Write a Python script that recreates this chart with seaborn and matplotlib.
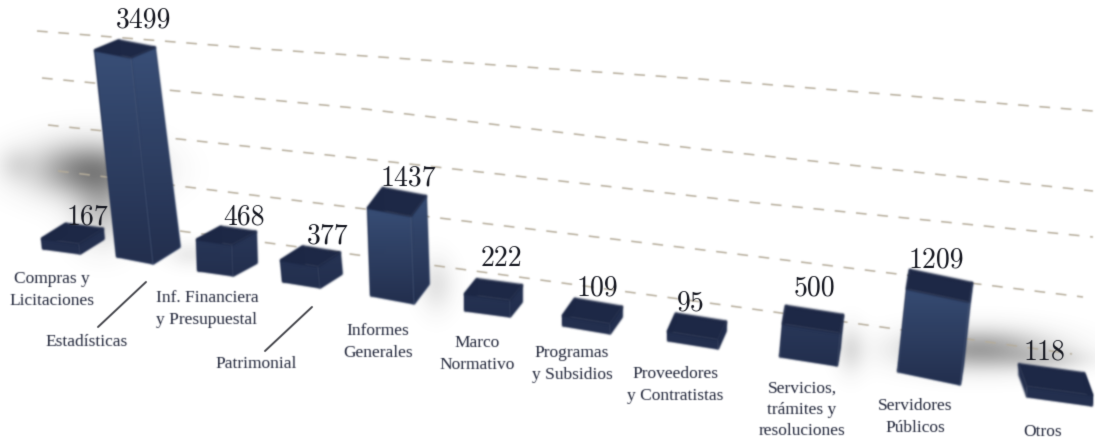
import numpy as np
import pandas as pd
import matplotlib
matplotlib.use("Agg")
import matplotlib.pyplot as plt
from matplotlib.patches import Polygon
from matplotlib.transforms import Affine2D
from matplotlib.colors import LinearSegmentedColormap, to_rgb
import seaborn as sns

# ---- data ----
categories = ["Compras y\nLicitaciones", "Estadísticas", "Inf. Financiera\ny Presupuestal",
              "Patrimonial", "Informes\nGenerales", "Marco\nNormativo", "Programas\ny Subsidios",
              "Proveedores\ny Contratistas", "Servicios,\ntrámites y\nresoluciones",
              "Servidores\nPúblicos", "Otros"]
values = [167, 3499, 468, 377, 1437, 222, 109, 95, 500, 1209, 118]

# ---- perspective layout (image pixels, y down) ----
W, H = 1095, 439
foot = [(43, 250), (117, 258), (198, 272), (283, 283), (371, 297), (465, 312),
        (563, 327), (668, 342), (780, 358), (898, 373), (1027, 398)]
edge = [(37, 5), (36, 7), (35, 5), (37, 6), (43, 8), (45, 6), (47, 8), (50, 8), (57, 9), (62, 13), (65, 9)]
depth = [(24, -15), (27, -17), (24, -13), (22, -14), (15, -20), (12, -15),
         (12, -17), (8, -18), (3, -18), (3, -19), (-8, -22)]
lid_depth = [(24, -15), (24, -10), (24, -13), (22, -14), (15, -20), (12, -15),
             (12, -17), (8, -18), (3, -18), (3, -19), (-8, -22)]
lean = [-1, -22, -1, -2, -3, 0, 0, 0, 3, 9, 0]
persp = [0.65, 0.99, 1.0, 0.8, 1.0, 1.0, 1.0, 1.0, 1.0, 1.12, 1.0]
thick = 4
px_per_unit = 0.0585

value_pos = [(87, 217), (144, 20), (244, 217), (328, 236), (408, 178), (501, 259),
             (597, 288), (691, 303), (814, 288), (936, 260), (1044, 352)]
label_pos = [(52, 290), (87, 342), (207, 309), (256, 364), (378, 342), (477, 354),
             (572, 364), (675, 385), (802, 410), (915, 417), (1043, 432)]
grid_lines = [
    [(37, 32), (263, 50), (700, 80), (1093, 112)],
    [(42, 79), (365, 110), (700, 150), (1093, 192)],
    [(48, 126), (365, 160), (738, 202), (1093, 238)],
    [(58, 172), (365, 210), (720, 253), (1083, 298)],
    [(180, 232), (365, 257), (738, 308), (967, 340), (1072, 355)],
]
leaders = [[(146, 283), (98, 328)], [(312, 308), (265, 352)]]
blobs = [(88, 170, 38, 19, 0.62), (102, 208, 20, 24, 0.30), (15, 165, 12, 12, 0.10),
         (978, 350, 48, 14, 0.50), (1050, 360, 28, 8, 0.16), (190, 255, 16, 9, 0.10),
         (436, 285, 12, 18, 0.14), (850, 350, 10, 16, 0.16)]

BASE, LIGHT, LID, GRID = "#232f4e", "#3a5078", "#1c2745", "#b5ac9a"


def blur(sigma):
    """Soft, scanned look: gaussian blur of an artist's rendered layer."""
    r = int(3 * sigma) + 1
    kern = np.exp(-np.arange(-r, r + 1) ** 2 / (2 * sigma ** 2))
    kern /= kern.sum()

    def apply(img, dpi):
        out = np.pad(img, ((r, r), (r, r), (0, 0)))
        out[..., :3] *= out[..., 3:4]
        out = np.apply_along_axis(lambda m: np.convolve(m, kern, "same"), 0, out)
        out = np.apply_along_axis(lambda m: np.convolve(m, kern, "same"), 1, out)
        a = np.clip(out[..., 3:4], 1e-4, None)
        out[..., :3] = np.clip(out[..., :3] / a, 0, 1)
        return out, -r, -r

    return apply


sns.set_theme(style="white")
fig = plt.figure(figsize=(W / 100, H / 100), dpi=100, facecolor="white")
ax = fig.add_axes([0, 0, 1, 1])
px = Affine2D().scale(1, -1).translate(0, H)

# soft cast shadows
yy, xx = np.mgrid[0:H, 0:W]
alpha = np.zeros((H, W))
for cx, cy, sx, sy, amp in blobs:
    alpha += amp * np.exp(-((xx - cx) / sx) ** 2 / 2 - ((yy - cy) / sy) ** 2 / 2)
rgba = np.zeros((H, W, 4))
rgba[..., :3] = 0.25
rgba[..., 3] = np.clip(alpha, 0, 0.75)
ax.imshow(rgba, extent=(0, W, H, 0), transform=px, aspect="auto", zorder=0, interpolation="bilinear")

for line in grid_lines:
    a = np.array(line)
    ax.plot(a[:, 0], a[:, 1], transform=px, color=GRID, lw=1.1, dashes=(7, 7), zorder=1,
            agg_filter=blur(0.7))

# the bars, from the data, then sheared into perspective
df = pd.DataFrame({"category": categories, "value": values})
sns.barplot(data=df, x="category", y="value", color=BASE, saturation=1, width=0.8, ax=ax, zorder=3)
ax.set_xlim(-0.5, len(values) - 0.5)
ax.set_ylim(0, H / px_per_unit)
fig.canvas.draw()


def gradient(poly, top, bot, z):
    ys = poly[:, 1]
    cmap = LinearSegmentedColormap.from_list("g", [top, bot])
    return ax.imshow(np.linspace(0, 1, 64)[:, None], cmap=cmap, vmin=0, vmax=1,
                     extent=(poly[:, 0].min(), poly[:, 0].max(), ys.max(), ys.min()),
                     transform=px, aspect="auto", zorder=z)


soft = blur(1.1)
for i, (patch, val) in enumerate(zip(ax.patches[:len(values)], values)):
    P = np.array(foot[i], float)
    u = np.array(edge[i], float)
    d = np.array(depth[i], float)
    dl = np.array(lid_depth[i], float)
    h = val * px_per_unit * persp[i] + thick
    v = np.array([lean[i], -h])
    (X0, Y0), (X1, Y1) = ax.transData.transform(
        [(patch.get_x(), 0), (patch.get_x() + patch.get_width(), val)])
    a, b = u[0] / (X1 - X0), -u[1] / (X1 - X0)
    c, e = v[0] / (Y1 - Y0), -v[1] / (Y1 - Y0)
    tx = P[0] - a * X0 - c * Y0
    ty = (H - P[1]) - b * X0 - e * Y0
    patch.set_transform(ax.transData + Affine2D.from_values(a, b, c, e, tx, ty))
    strength = min(h / 90, 1.0) ** 1.3
    top_c = tuple(np.array(to_rgb(BASE)) * (1 - strength) + np.array(to_rgb(LIGHT)) * strength)
    mid_c = tuple((np.array(top_c) + np.array(to_rgb(BASE))) / 2)
    patch.set_facecolor(mid_c)
    patch.set_edgecolor("none")
    z = 3 + i * 0.1
    patch.set_zorder(z)
    patch.set_agg_filter(soft)

    front = np.array([P, P + u, P + u + v, P + v])
    im = gradient(front, top_c, BASE, z + 0.01)
    im.set_clip_path(Polygon(front, closed=True, transform=px))
    im.set_agg_filter(soft)

    right = np.array([P + u, P + u + d, P + u + dl + v, P + u + v])
    ax.add_patch(Polygon(right, closed=True, transform=px, fc=mid_c, ec=mid_c, lw=1, joinstyle="round",
                         zorder=z - 0.02, agg_filter=soft))
    im = gradient(right, top_c, BASE, z - 0.01)
    im.set_clip_path(Polygon(right, closed=True, transform=px))
    im.set_agg_filter(soft)
    back = np.array([P, P + d, P + dl + v, P + v])
    ax.add_patch(Polygon(back, closed=True, transform=px, fc=BASE, ec=BASE, lw=1, joinstyle="round",
                         zorder=z - 0.03, agg_filter=soft))
    lid = np.array([P + v, P + u + v, P + u + dl + v, P + dl + v])
    ax.add_patch(Polygon(lid, closed=True, transform=px, fc=LID, ec=LID, lw=1.5, joinstyle="round",
                         zorder=z + 0.02, agg_filter=soft))

for (x, y), val in zip(value_pos, values):
    ax.text(x, y, str(val), transform=px, family="cmr10", fontsize=20, color="#14161f",
            ha="center", va="center", zorder=6, agg_filter=blur(0.5))
for (x, y), lab in zip(label_pos, categories):
    ax.text(x, y, lab, transform=px, family="Liberation Serif", fontsize=12.5, color="#1f2438",
            ha="center", va="center", linespacing=1.45, zorder=6, clip_on=False, agg_filter=blur(0.6))
for seg in leaders:
    a = np.array(seg)
    ax.plot(a[:, 0], a[:, 1], transform=px, color="#45464c", lw=1.4, zorder=6, agg_filter=blur(0.5))

ax.set_xlim(-0.5, len(values) - 0.5)
ax.set_ylim(0, H / px_per_unit)
ax.axis("off")
fig.savefig("out.png", dpi=100, facecolor="white")
